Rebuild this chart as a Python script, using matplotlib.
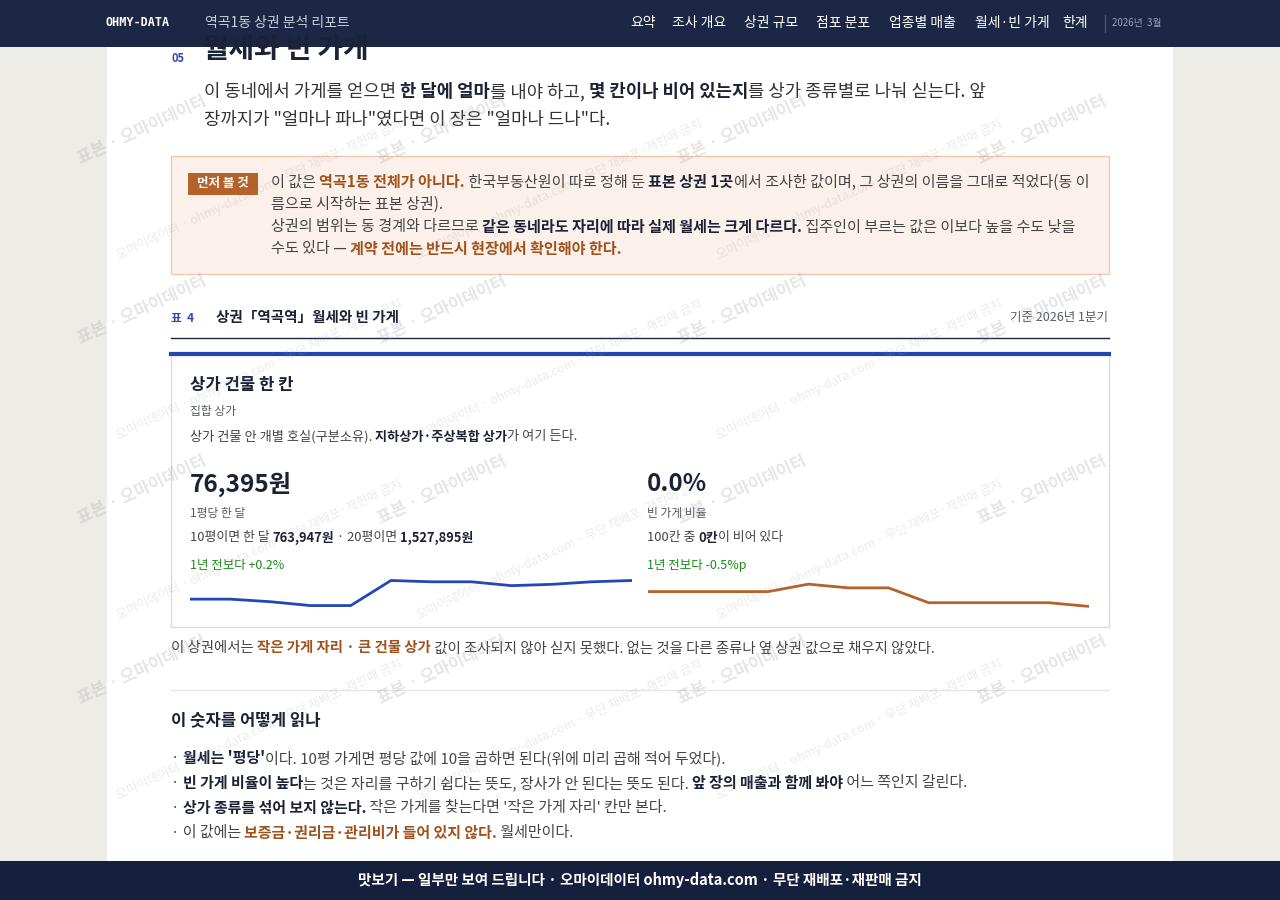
import matplotlib
matplotlib.use("Agg")
import matplotlib.pyplot as plt
from matplotlib.patches import Rectangle

plt.rcParams['font.family'] = ['Noto Sans CJK KR', 'DejaVu Sans']

rent_values = [75900, 75900, 75860, 75800, 75800, 76190, 76170, 76170, 76110, 76130, 76170, 76190]
vacancy_values = [0.5, 0.5, 0.5, 0.5, 0.7, 0.6, 0.6, 0.2, 0.2, 0.2, 0.2, 0.1]
nav_items = ["요약", "조사 개요", "상권 규모", "점포 분포", "업종별 매출", "월세·빈 가게", "한계"]

W, H = 1280, 900
fig = plt.figure(figsize=(12.8, 9), dpi=100)
fig.patch.set_facecolor('#eeece7')
NAVY = '#1b2744'; INK = '#1b2236'; GRAY = '#555b66'; BROWN = '#a0521c'; GREEN = '#1a8a1a'

def fy(y): return 1 - y / H
def fx(x): return x / W

def rect(x, y, w, h, fc, ec='none', lw=1, z=0):
    fig.patches.append(Rectangle((fx(x), fy(y + h)), w / W, h / H, transform=fig.transFigure,
                                 facecolor=fc, edgecolor=ec, linewidth=lw, zorder=z))

def hline(x0, x1, y, c, lw=1):
    fig.add_artist(plt.Line2D([fx(x0), fx(x1)], [fy(y), fy(y)], transform=fig.transFigure, color=c, lw=lw))

renderer = fig.canvas.get_renderer()
def rich(x, y, parts, size=10.5):
    for txt, w, c in parts:
        t = fig.text(fx(x), fy(y), txt, fontsize=size, fontweight=w, color=c, va='center', ha='left', zorder=5)
        bb = t.get_window_extent(renderer)
        x += bb.width

rect(107, 0, 1066, 900, 'white')
# header
rect(0, 0, 1280, 47, NAVY, z=3)
fig.text(fx(106), fy(23), "OHMY-DATA", color='white', fontsize=8.5, fontweight='bold', va='center', family=['DejaVu Sans Mono'], zorder=4)
fig.text(fx(205), fy(23), "역곡1동 상권 분석 리포트", color='#c9cfdc', fontsize=10, va='center', zorder=4)
xs = [630, 672, 744, 816, 889, 975, 1062]
for x, s in zip(xs, nav_items):
    fig.text(fx(x), fy(23), s, color='white', fontsize=10, va='center', zorder=4)
fig.add_artist(plt.Line2D([fx(1105), fx(1105)], [fy(15), fy(32)], transform=fig.transFigure, color='#4a5572', lw=1, zorder=4))
fig.text(fx(1112), fy(23), "2026년  3월", color='#9aa3b8', fontsize=7, va='center', zorder=4)

# section title
fig.text(fx(171), fy(58), "05", color='#2b4bb0', fontsize=8, fontweight='bold', va='center')
fig.text(fx(203), fy(50), "월세와 빈 가게", color=INK, fontsize=20, fontweight='bold', va='center')
rich(204, 92, [("이 동네에서 가게를 얻으면 ", 'normal', '#333'), ("한 달에 얼마", 'bold', INK),
               ("를 내야 하고, ", 'normal', '#333'), ("몇 칸이나 비어 있는지", 'bold', INK),
               ("를 상가 종류별로 나눠 싣는다. 앞", 'normal', '#333')], size=12.8)
rich(204, 120, [('장까지가 "얼마나 파나"였다면 이 장은 "얼마나 드나"다.', 'normal', '#333')], size=12.8)

# notice box
rect(171, 156, 938, 118, '#fcf1ea', ec='#f0c9ad', z=1)
rect(188, 173, 70, 22, '#b5612a', z=2)
fig.text(fx(223), fy(184), "먼저 볼 것", color='white', fontsize=9, fontweight='bold', ha='center', va='center', zorder=3)
S = 10.9
rich(271, 182, [("이 값은 ", 'normal', '#444'), ("역곡1동 전체가 아니다.", 'bold', BROWN),
                (" 한국부동산원이 따로 정해 둔 ", 'normal', '#444'), ("표본 상권 1곳", 'bold', INK),
                ("에서 조사한 값이며, 그 상권의 이름을 그대로 적었다(동 이", 'normal', '#444')], size=S)
rich(271, 204, [("름으로 시작하는 표본 상권).", 'normal', '#444')], size=S)
rich(271, 227, [("상권의 범위는 동 경계와 다르므로 ", 'normal', '#444'), ("같은 동네라도 자리에 따라 실제 월세는 크게 다르다.", 'bold', INK),
                (" 집주인이 부르는 값은 이보다 높을 수도 낮을", 'normal', '#444')], size=S)
rich(271, 249, [("수도 있다 — ", 'normal', '#444'), ("계약 전에는 반드시 현장에서 확인해야 한다.", 'bold', BROWN)], size=S)

# table header
fig.text(fx(171), fy(318), "표  4", color='#2b4bb0', fontsize=8.5, fontweight='bold', va='center')
fig.text(fx(216), fy(317), "상권「역곡역」월세와 빈 가게", color=INK, fontsize=10.5, fontweight='bold', va='center')
fig.text(fx(1108), fy(318), "기준 2026년 1분기", color=GRAY, fontsize=9, ha='right', va='center')
hline(171, 1109, 338, NAVY, 1)

# card
rect(171, 353, 938, 274, 'white', ec='#dcdcdc', z=1)
hline(171, 1109, 354, '#2346b0', 3)
fig.text(fx(190), fy(385), "상가 건물 한 칸", color=INK, fontsize=12, fontweight='bold', va='center', zorder=5)
fig.text(fx(190), fy(411), "집합 상가", color=GRAY, fontsize=8.5, va='center', zorder=5)
rich(190, 437, [("상가 건물 안 개별 호실(구분소유). ", 'normal', '#444'), ("지하상가·주상복합 상가", 'bold', INK), ("가 여기 든다.", 'normal', '#444')], size=9.5)

fig.text(fx(190), fy(484), "76,395원", color=INK, fontsize=17.5, fontweight='bold', va='center', zorder=5)
fig.text(fx(190), fy(513), "1평당 한 달", color=GRAY, fontsize=8.5, va='center', zorder=5)
rich(190, 538, [("10평이면 한 달 ", 'normal', '#444'), ("763,947원", 'bold', INK), (" · 20평이면 ", 'normal', '#444'), ("1,527,895원", 'bold', INK)], size=9.3)
fig.text(fx(190), fy(565), "1년 전보다 +0.2%", color=GREEN, fontsize=9, va='center', zorder=5)

fig.text(fx(647), fy(484), "0.0%", color=INK, fontsize=17.5, fontweight='bold', va='center', zorder=5)
fig.text(fx(647), fy(513), "빈 가게 비율", color=GRAY, fontsize=8.5, va='center', zorder=5)
rich(647, 538, [("100칸 중 ", 'normal', '#444'), ("0칸", 'bold', INK), ("이 비어 있다", 'normal', '#444')], size=9.3)
fig.text(fx(647), fy(565), "1년 전보다 -0.5%p", color=GREEN, fontsize=9, va='center', zorder=5)

ax1 = fig.add_axes([fx(190), fy(612), (632 - 190) / W, 36 / H], zorder=4)
ax1.plot(range(len(rent_values)), rent_values, color='#2346b8', lw=2)
ax1.set_xlim(0, len(rent_values) - 1); ax1.set_ylim(75700, 76260); ax1.axis('off')
ax2 = fig.add_axes([fx(648), fy(612), (1089 - 648) / W, 36 / H], zorder=4)
ax2.plot(range(len(vacancy_values)), vacancy_values, color='#b5612a', lw=2)
ax2.set_xlim(0, len(vacancy_values) - 1); ax2.set_ylim(-0.05, 0.92); ax2.axis('off')

rich(171, 648, [("이 상권에서는 ", 'normal', '#444'), ("작은 가게 자리 · 큰 건물 상가", 'bold', BROWN),
                (" 값이 조사되지 않아 싣지 못했다. 없는 것을 다른 종류나 옆 상권 값으로 채우지 않았다.", 'normal', '#444')], size=10.4)
hline(171, 1109, 690, '#e6e6e6')

fig.text(fx(171), fy(720), "이 숫자를 어떻게 읽나", color=INK, fontsize=12, fontweight='bold', va='center')
S2 = 10.8
rich(171, 758, [("· ", 'normal', '#444'), ("월세는 '평당'", 'bold', INK), ("이다. 10평 가게면 평당 값에 10을 곱하면 된다(위에 미리 곱해 적어 두었다).", 'normal', '#444')], size=S2)
rich(171, 783, [("· ", 'normal', '#444'), ("빈 가게 비율이 높다", 'bold', INK), ("는 것은 자리를 구하기 쉽다는 뜻도, 장사가 안 된다는 뜻도 된다. ", 'normal', '#444'),
                ("앞 장의 매출과 함께 봐야", 'bold', INK), (" 어느 쪽인지 갈린다.", 'normal', '#444')], size=S2)
rich(171, 808, [("· ", 'normal', '#444'), ("상가 종류를 섞어 보지 않는다.", 'bold', INK), (" 작은 가게를 찾는다면 '작은 가게 자리' 칸만 본다.", 'normal', '#444')], size=S2)
rich(171, 833, [("· 이 값에는 ", 'normal', '#444'), ("보증금·권리금·관리비가 들어 있지 않다.", 'bold', BROWN), (" 월세만이다.", 'normal', '#444')], size=S2)

# watermarks
for i in range(0, 4):
    for j in range(0, 4):
        x = 75 + i * 300
        y = 130 + j * 180
        fig.text(fx(x), fy(y), "표본 · 오마이데이터", color='#999', alpha=0.25, fontsize=12, fontweight='bold',
                 rotation=25, va='center', ha='left', zorder=6)
        if x + 400 < W:
            fig.text(fx(x + 40), fy(y + 60), "오마이데이터 · ohmy-data.com · 무단 재배포·재판매 금지", color='#999', alpha=0.2,
                     fontsize=9, rotation=25, va='center', ha='left', zorder=6)

# footer
rect(0, 861, 1280, 39, '#15203d', z=7)
fig.text(0.5, fy(880), "맛보기 — 일부만 보여 드립니다 · 오마이데이터 ohmy-data.com · 무단 재배포·재판매 금지",
         color='white', fontsize=10.5, fontweight='bold', ha='center', va='center', zorder=8)

fig.savefig("out.png", dpi=100, facecolor=fig.get_facecolor())
